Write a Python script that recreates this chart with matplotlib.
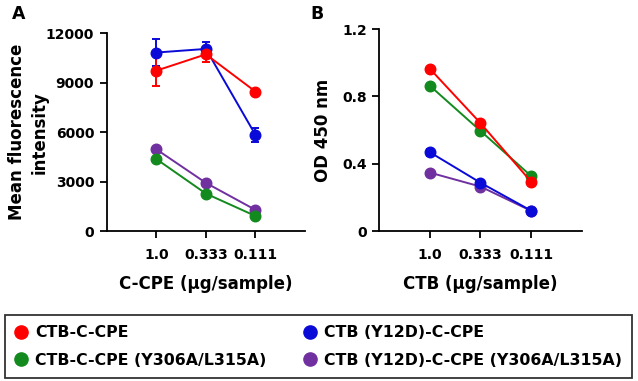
import matplotlib
matplotlib.use("Agg")
import matplotlib.pyplot as plt
from matplotlib.lines import Line2D

plt.rcParams['font.family'] = ['DejaVu Sans']
plt.rcParams['font.weight'] = 'bold'

categories = ["1.0", "0.333", "0.111"]
series_names = ["CTB-C-CPE", "CTB (Y12D)-C-CPE",
                "CTB-C-CPE (Y306A/L315A)", "CTB (Y12D)-C-CPE (Y306A/L315A)"]
colors = {"CTB-C-CPE": "#ff0000", "CTB (Y12D)-C-CPE": "#0a0ad8",
          "CTB-C-CPE (Y306A/L315A)": "#138a1e", "CTB (Y12D)-C-CPE (Y306A/L315A)": "#7030a0"}

# Panel A: mean fluorescence intensity
a_red = [9730, 10720, 8460]
a_red_err = [930, 440, 0]
a_blue = [10830, 11050, 5830]
a_blue_err = [810, 440, 400]
a_green = [4370, 2270, 910]
a_green_err = [0, 0, 0]
a_purple = [4960, 2920, 1280]
a_purple_err = [0, 0, 0]

# Panel B: OD 450 nm
b_red = [0.964, 0.641, 0.293]
b_red_err = [0, 0, 0]
b_blue = [0.468, 0.287, 0.121]
b_blue_err = [0.022, 0, 0]
b_green = [0.863, 0.595, 0.327]
b_green_err = [0, 0, 0]
b_purple = [0.347, 0.264, 0.120]
b_purple_err = [0, 0, 0]

fig = plt.figure(figsize=(6.38, 3.81), dpi=100)
axA = fig.add_axes([0.1672, 0.3937, 0.311, 0.519])
axB = fig.add_axes([0.5945, 0.3937, 0.3172, 0.530])

x = list(range(len(categories)))

def draw(ax, data):
    for name, vals, errs in data:
        c = colors[name]
        ax.errorbar(x, vals, yerr=errs, color=c, ecolor=c, lw=1.4, elinewidth=1.4,
                    capsize=3.2, capthick=1.4, marker='o', markersize=7.6, mec=c, mfc=c,
                    clip_on=False, zorder=3)

draw(axA, [(series_names[3], a_purple, a_purple_err),
           (series_names[2], a_green, a_green_err),
           (series_names[1], a_blue, a_blue_err),
           (series_names[0], a_red, a_red_err)])
draw(axB, [(series_names[3], b_purple, b_purple_err),
           (series_names[2], b_green, b_green_err),
           (series_names[1], b_blue, b_blue_err),
           (series_names[0], b_red, b_red_err)])

for ax in (axA, axB):
    ax.set_xlim(-1, 3)
    ax.set_xticks(x)
    ax.set_xticklabels(categories)
    for s in ('top', 'right'):
        ax.spines[s].set_visible(False)
    for s in ('left', 'bottom'):
        ax.spines[s].set_linewidth(1.3)
    ax.tick_params(axis='x', length=5, width=1.3, pad=7.5, labelsize=10)
    ax.tick_params(axis='y', length=5, width=1.3, pad=4, labelsize=10)

axA.set_ylim(0, 12000)
axA.set_yticks([0, 3000, 6000, 9000, 12000])
axB.set_ylim(0, 1.2)
axB.set_yticks([0, 0.4, 0.8, 1.2])
axB.set_yticklabels(["0", "0.4", "0.8", "1.2"])
for ax in (axA, axB):
    for lab in ax.get_xticklabels() + ax.get_yticklabels():
        lab.set_fontweight('bold')

axA.set_ylabel("Mean fluorescence\nintensity", fontsize=12, fontweight='bold', labelpad=-2,
               linespacing=1.3)
axA.set_xlabel("C-CPE (\u03bcg/sample)", fontsize=12, fontweight='bold', labelpad=9)
axB.set_ylabel("OD 450 nm", fontsize=12, fontweight='bold', labelpad=7.5)
axB.set_xlabel("CTB (\u03bcg/sample)", fontsize=12, fontweight='bold', labelpad=9)

fig.text(12/638, 1 - 14/381, "A", fontsize=12.5, fontweight='bold', ha='left', va='center')
fig.text(310/638, 1 - 14/381, "B", fontsize=12.5, fontweight='bold', ha='left', va='center')

order = [0, 2, 1, 3]
handles = [Line2D([], [], ls='none', marker='o', markersize=9.5,
                  mfc=colors[series_names[i]], mec=colors[series_names[i]]) for i in order]
labels = [series_names[i] for i in order]
leg = fig.legend(handles, labels, ncol=2, mode='expand', loc='upper left',
                 bbox_to_anchor=(5/638, 1 - 315/381, 627/638, 0),
                 frameon=True, fancybox=False, edgecolor='black', fontsize=11.3,
                 handlelength=0.8, handletextpad=0.45, borderpad=0.65, labelspacing=0.8,
                 borderaxespad=0)
leg.get_frame().set_linewidth(1.3)
for t in leg.get_texts():
    t.set_fontweight('bold')

fig.savefig("out.png", dpi=100)
